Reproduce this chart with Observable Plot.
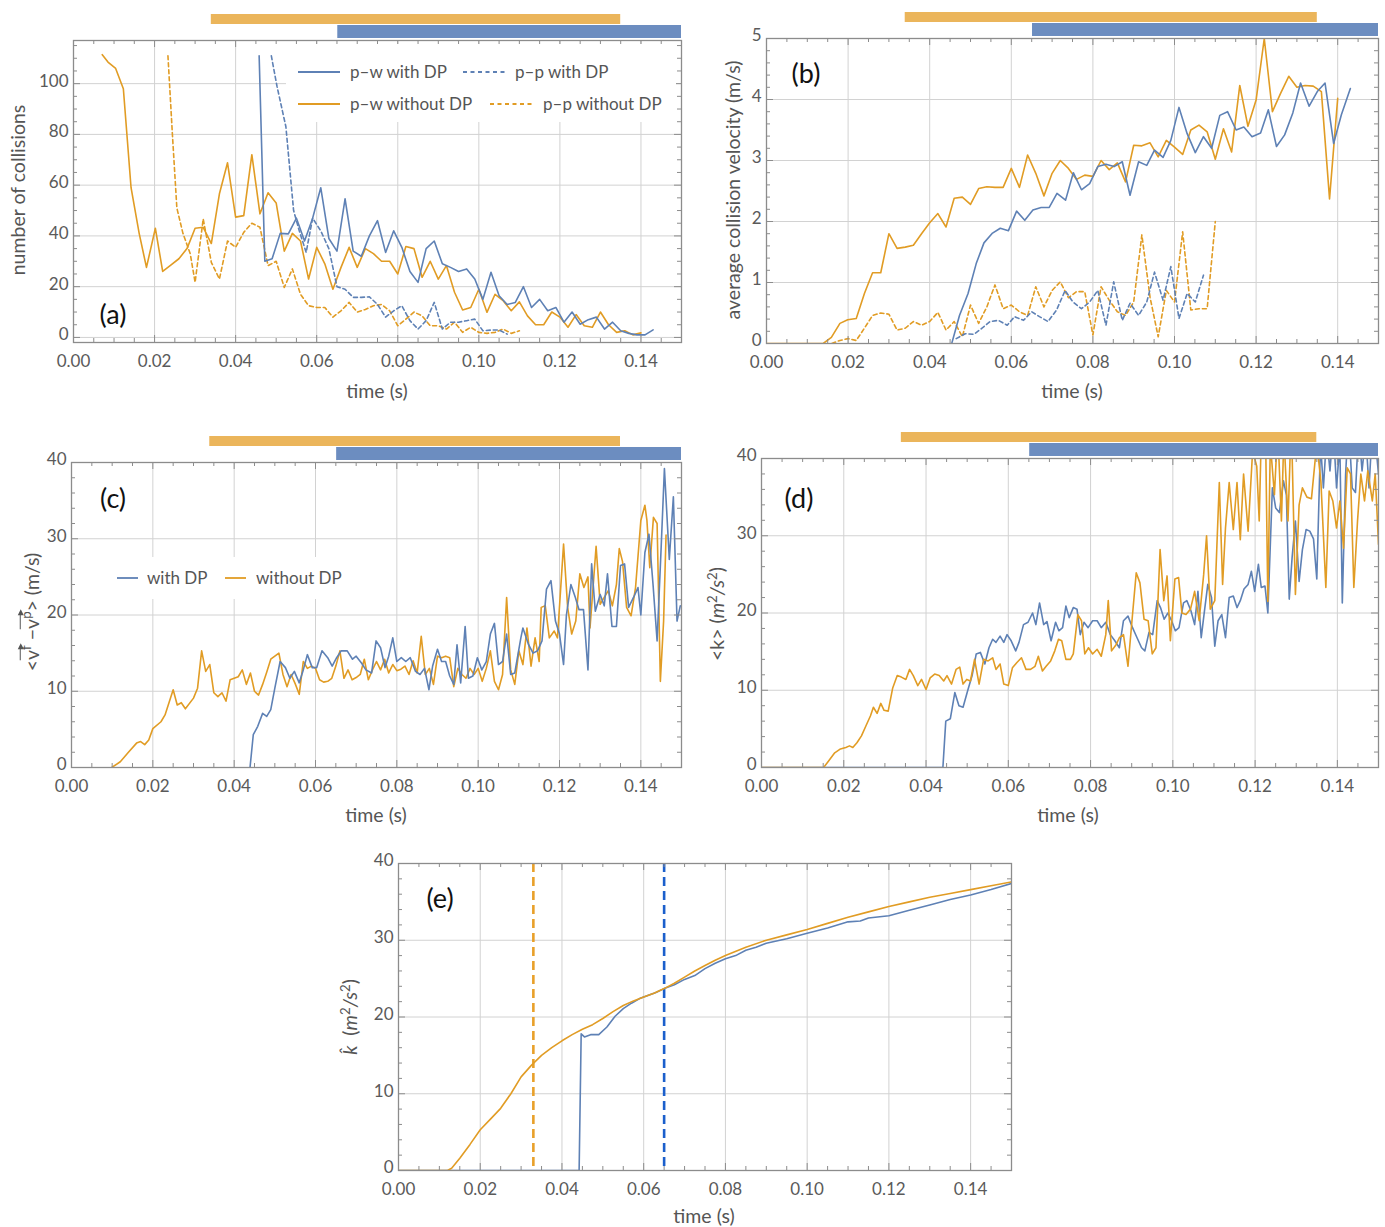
<!DOCTYPE html>
<html>
<head>
<meta charset="utf-8">
<script src="https://cdn.jsdelivr.net/npm/d3@7"></script>
<script src="https://cdn.jsdelivr.net/npm/@observablehq/plot@0.6"></script>
<style>
  html, body { margin: 0; padding: 0; background: #fff; }
  #root { position: relative; width: 1385px; height: 1227px; overflow: hidden; background: #fff;
          font-family: Lato, "Open Sans", "DejaVu Sans", sans-serif; }
  .lbl { position: absolute; transform: translate(-50%, -50%); white-space: nowrap; color: #555; font-size: 19.5px; line-height: 1; }
  .ytl { transform: translate(-50%, -50%) rotate(-90deg); }
  .pan { color: #111; font-size: 27px; }
  sup { font-size: 0.68em; vertical-align: 0.55em; line-height: 0; }
  .vec { position: relative; display: inline-block; padding-top: 3px; }
  .vec::before { content: ""; position: absolute; left: 0; right: 1px; top: 1px; border-top: 1px solid #555; }
  .vec::after { content: ""; position: absolute; right: -2px; top: -1px; border-left: 6px solid #555;
                border-top: 3px solid transparent; border-bottom: 3px solid transparent; }
</style>
</head>
<body>
<div id="root"></div>
<script>
// ---------------- data ----------------
const X_MAJOR = [0, 0.02, 0.04, 0.06, 0.08, 0.10, 0.12, 0.14];
const periodWithoutDP = [0.034, 0.135];
const periodWithDP = [0.0652, 0.15];
const eMarkWithoutDP = [0.033];
const eMarkWithDP = [0.065];

// (a) number of collisions
const aPwWithDP = [[0.0458,111],[0.0472,30],[0.049,31],[0.051,41],[0.053,40.8],[0.055,47],[0.057,38],[0.059,47],[0.061,59],[0.063,39],[0.065,34],[0.067,54.6],[0.069,34],[0.071,32],[0.073,40],[0.075,46],[0.077,33.5],[0.079,42],[0.081,35.5],[0.083,26],[0.085,21.7],[0.087,35],[0.089,38],[0.091,29],[0.093,27.6],[0.095,26],[0.097,27],[0.099,23],[0.101,15],[0.103,25.7],[0.105,16.4],[0.107,13],[0.109,13.8],[0.111,20],[0.113,11.8],[0.115,15],[0.117,10.5],[0.119,11.8],[0.121,6],[0.123,10],[0.125,5.2],[0.127,7],[0.129,8],[0.131,3.3],[0.133,6],[0.135,2.6],[0.137,1.6],[0.139,1],[0.141,1],[0.143,3]];
const aPpWithDP = [[0.0488,111],[0.0502,99],[0.0524,83],[0.0543,50],[0.0557,42],[0.0574,33.5],[0.059,47],[0.061,42],[0.063,35],[0.065,20],[0.067,19],[0.069,15.8],[0.071,15.8],[0.073,16],[0.075,13],[0.077,8],[0.079,10.5],[0.081,12.5],[0.083,6.6],[0.085,3.3],[0.087,6.6],[0.089,13.8],[0.091,3.3],[0.093,6],[0.095,6],[0.097,6.6],[0.099,7.2],[0.101,2.6],[0.103,2.9],[0.105,2.9],[0.107,1.3]];
const aPwWithoutDP = [[0.0071,111.4],[0.0085,108.5],[0.0104,106],[0.0123,98],[0.0142,59],[0.0162,41],[0.018,27.6],[0.0202,43],[0.022,26],[0.024,28.5],[0.026,31],[0.028,35],[0.030,43],[0.032,43.4],[0.034,37],[0.036,56.6],[0.038,68.8],[0.040,47.4],[0.042,48],[0.044,72],[0.046,48.7],[0.048,57],[0.050,53],[0.052,34],[0.054,41],[0.056,38],[0.058,23],[0.060,35.5],[0.062,29],[0.064,19],[0.066,27.6],[0.068,35.5],[0.070,27.6],[0.072,35],[0.074,33],[0.076,30],[0.078,30],[0.080,25],[0.082,35.8],[0.084,35],[0.086,23.7],[0.088,30],[0.090,23],[0.092,28.3],[0.094,17.8],[0.096,10.8],[0.098,11.8],[0.100,19],[0.102,9.9],[0.104,17],[0.106,14.5],[0.108,10.5],[0.110,14],[0.112,8.5],[0.114,5],[0.116,5],[0.118,10],[0.120,8],[0.122,4],[0.124,9],[0.126,4.6],[0.128,4],[0.130,10],[0.132,5],[0.134,2],[0.136,2.6],[0.138,1],[0.140,1.8]];
const aPpWithoutDP = [[0.0233,111],[0.0244,80],[0.0255,51],[0.027,41],[0.0288,33],[0.030,21.7],[0.032,46.7],[0.034,29.6],[0.036,23],[0.038,38],[0.040,35.5],[0.042,41.4],[0.044,45],[0.046,43.4],[0.048,28.3],[0.050,30],[0.052,19.7],[0.054,27],[0.056,17],[0.058,12.5],[0.060,11.8],[0.062,11.8],[0.064,8],[0.066,10.5],[0.068,13.8],[0.070,10],[0.072,11],[0.074,12.5],[0.076,13],[0.078,10.5],[0.080,4.6],[0.082,7.2],[0.084,10],[0.086,8.5],[0.088,4.6],[0.090,4.6],[0.092,3.3],[0.094,6],[0.096,2],[0.098,4],[0.100,2],[0.102,1.6],[0.104,2],[0.106,3.3],[0.108,1.6],[0.110,2.6]];

// (b) average collision velocity
const bPwWithDP = [[0.0454,0],[0.0473,0.46],[0.0494,0.82],[0.0514,1.31],[0.0533,1.65],[0.0554,1.81],[0.0573,1.89],[0.0593,1.85],[0.0613,2.17],[0.0633,2.02],[0.0653,2.19],[0.0673,2.23],[0.0693,2.23],[0.0712,2.46],[0.0733,2.35],[0.0752,2.8],[0.0772,2.52],[0.0792,2.62],[0.0812,2.9],[0.0832,2.94],[0.0852,2.9],[0.0872,2.98],[0.0891,2.43],[0.0912,2.98],[0.0932,2.92],[0.0951,3.17],[0.0972,3.05],[0.0991,3.33],[0.1011,3.87],[0.1031,3.44],[0.1051,3.13],[0.1071,3.39],[0.1091,3.2],[0.1111,3.74],[0.113,3.8],[0.1151,3.5],[0.117,3.55],[0.119,3.39],[0.1211,3.45],[0.123,3.83],[0.125,3.23],[0.127,3.42],[0.129,3.78],[0.1309,4.27],[0.133,3.89],[0.135,4.13],[0.1369,4.27],[0.139,3.28],[0.1409,3.75],[0.1431,4.18]];
const bPpWithDP = [[0.0465,0.08],[0.0487,0.16],[0.0508,0.15],[0.0528,0.25],[0.0548,0.36],[0.0568,0.38],[0.059,0.3],[0.0608,0.44],[0.063,0.38],[0.065,0.52],[0.0669,0.44],[0.069,0.36],[0.0711,0.55],[0.0732,0.87],[0.0751,0.68],[0.0772,0.57],[0.0792,0.68],[0.0812,0.87],[0.0832,0.3],[0.0851,1.01],[0.0872,0.38],[0.0891,0.66],[0.0912,0.46],[0.0932,0.68],[0.0951,1.17],[0.0972,0.71],[0.0991,1.26],[0.1011,0.41],[0.1031,0.82],[0.1051,0.68],[0.1071,1.12]];
const bPwWithoutDP = [[0,0],[0.0139,0],[0.0159,0.1],[0.018,0.33],[0.0199,0.39],[0.022,0.41],[0.024,0.82],[0.026,1.16],[0.028,1.16],[0.030,1.8],[0.032,1.56],[0.034,1.58],[0.036,1.61],[0.038,1.8],[0.040,1.98],[0.042,2.13],[0.044,1.91],[0.046,2.38],[0.048,2.4],[0.050,2.28],[0.052,2.54],[0.054,2.57],[0.056,2.56],[0.058,2.56],[0.060,2.87],[0.062,2.56],[0.064,3.09],[0.066,2.79],[0.068,2.42],[0.070,2.79],[0.072,3.0],[0.074,2.87],[0.076,2.69],[0.078,2.76],[0.080,2.74],[0.082,3.0],[0.084,2.85],[0.086,2.96],[0.088,2.65],[0.090,3.25],[0.092,3.24],[0.094,3.29],[0.096,3.06],[0.098,3.33],[0.100,3.22],[0.102,3.1],[0.104,3.5],[0.106,3.58],[0.108,3.47],[0.110,3.02],[0.112,3.52],[0.114,3.14],[0.116,4.23],[0.118,3.56],[0.120,3.99],[0.122,5.0],[0.124,3.8],[0.126,4.1],[0.128,4.38],[0.130,4.2],[0.132,4.23],[0.134,4.22],[0.136,4.13],[0.138,2.37],[0.140,4.02]];
const bPpWithoutDP = [[0.016,0],[0.018,0.05],[0.020,0.08],[0.022,0.05],[0.024,0.25],[0.026,0.46],[0.028,0.5],[0.030,0.48],[0.032,0.22],[0.034,0.25],[0.036,0.36],[0.038,0.3],[0.040,0.36],[0.042,0.51],[0.044,0.22],[0.046,0.36],[0.048,0.11],[0.050,0.63],[0.052,0.33],[0.054,0.6],[0.056,0.96],[0.058,0.57],[0.060,0.63],[0.062,0.52],[0.064,0.46],[0.066,0.93],[0.068,0.6],[0.070,0.87],[0.072,1.01],[0.074,0.75],[0.076,0.85],[0.078,0.85],[0.080,0.14],[0.082,0.93],[0.084,0.71],[0.086,0.52],[0.088,0.46],[0.090,0.68],[0.092,1.78],[0.094,0.76],[0.096,0.11],[0.098,0.87],[0.100,0.68],[0.102,1.83],[0.104,0.55],[0.106,0.57],[0.108,0.57],[0.110,2.0]];

// (c) mean slip velocity
const cWithDP = [[0.0439,0],[0.0447,4.3],[0.0458,5.4],[0.047,7.1],[0.048,6.7],[0.049,7.6],[0.050,10.4],[0.0513,13.9],[0.0526,13.1],[0.0537,11.7],[0.0548,12.6],[0.056,11.1],[0.057,12.8],[0.058,14.8],[0.0592,13.1],[0.0603,13.1],[0.0616,15.3],[0.063,14.4],[0.0641,13.3],[0.0652,14.4],[0.0663,15.3],[0.0678,15.3],[0.0691,14.2],[0.070,14.6],[0.0713,13.7],[0.0724,12.8],[0.0738,12.4],[0.0749,16.6],[0.076,15.7],[0.0771,13.1],[0.078,14.6],[0.079,17],[0.080,13.9],[0.0811,14.4],[0.0822,13.9],[0.0833,14.4],[0.0846,12.6],[0.0857,12.2],[0.0868,13],[0.0879,10.2],[0.0888,13.3],[0.090,15.5],[0.091,13.9],[0.092,13.9],[0.093,12],[0.094,10.9],[0.0948,16.1],[0.0957,11.1],[0.0968,18.5],[0.0976,11.7],[0.0987,12],[0.0998,14.4],[0.1009,12.8],[0.102,13.9],[0.103,17.5],[0.104,18.9],[0.105,13.5],[0.106,13.9],[0.107,17.5],[0.108,12.2],[0.109,12.4],[0.1105,17],[0.111,18.3],[0.1124,16.1],[0.1135,15],[0.1146,15.3],[0.1157,16.6],[0.1168,23.4],[0.1179,24.5],[0.119,19.2],[0.120,17.5],[0.121,13.5],[0.1217,20],[0.1228,24],[0.1239,22.3],[0.1248,20.7],[0.1259,20.7],[0.127,12.8],[0.1279,26.7],[0.1288,20.5],[0.130,22.7],[0.131,21.2],[0.1318,25.4],[0.1329,18.5],[0.134,18.5],[0.135,26.5],[0.136,26.7],[0.137,21],[0.1382,22.3],[0.1393,23.6],[0.140,20],[0.141,28.2],[0.142,30.6],[0.143,24],[0.144,16.6],[0.145,28.9],[0.1458,39.2],[0.147,27.3],[0.148,35.5],[0.1489,19.2],[0.1497,21.2]];
const cWithoutDP = [[0.0099,0],[0.012,0.75],[0.014,2],[0.016,3.2],[0.017,3.4],[0.018,3],[0.019,3.6],[0.020,5.1],[0.022,6],[0.023,6.9],[0.025,10.2],[0.026,8.2],[0.027,8.5],[0.028,7.7],[0.030,9.1],[0.031,10.4],[0.032,15.3],[0.033,12.6],[0.034,13.5],[0.035,9.8],[0.036,9.3],[0.037,9.8],[0.038,8.7],[0.039,11.5],[0.040,11.7],[0.041,11.9],[0.042,12.8],[0.043,10.9],[0.044,12.4],[0.045,10],[0.046,9.5],[0.047,10.9],[0.048,12.5],[0.049,14.2],[0.050,14.6],[0.051,15],[0.052,12.2],[0.053,10.6],[0.054,12.2],[0.055,11],[0.056,9.6],[0.057,13.9],[0.058,13],[0.059,13.3],[0.060,13],[0.061,11.5],[0.062,11.2],[0.063,11.3],[0.064,11.7],[0.065,13.3],[0.066,15.3],[0.067,11.7],[0.068,12.8],[0.069,11.5],[0.070,11.8],[0.071,12.2],[0.072,14.2],[0.073,11.5],[0.074,12.8],[0.075,13.9],[0.076,12.8],[0.077,14.2],[0.078,12.4],[0.079,13.5],[0.080,12.7],[0.081,12.9],[0.082,13.3],[0.083,12.2],[0.084,14],[0.085,12.4],[0.086,17.2],[0.087,12.2],[0.088,13],[0.089,10.9],[0.090,14.6],[0.091,14.4],[0.092,14.6],[0.093,14.4],[0.094,10.6],[0.095,13],[0.096,12.2],[0.097,11.7],[0.098,13],[0.099,12.2],[0.100,13],[0.101,11.3],[0.102,13],[0.103,15.3],[0.104,11.3],[0.105,10.2],[0.106,12.2],[0.107,22.3],[0.108,12.8],[0.109,10.9],[0.110,15.3],[0.111,13.5],[0.112,18.3],[0.113,13.3],[0.114,17],[0.115,13.9],[0.1155,21],[0.1165,21.2],[0.1175,17],[0.1187,17.9],[0.1195,17],[0.121,29.3],[0.122,21],[0.123,17.5],[0.124,19.2],[0.125,25.4],[0.126,23.6],[0.127,25],[0.1275,18.3],[0.128,21.8],[0.129,29],[0.130,21.4],[0.131,22.3],[0.132,23.2],[0.133,21.2],[0.134,24],[0.1347,28.7],[0.1355,27],[0.1365,21],[0.1376,19.9],[0.1387,23.6],[0.140,32.4],[0.141,34.4],[0.1415,32.4],[0.1422,26.2],[0.1431,32.8],[0.144,32],[0.1448,11.3],[0.1456,19.2],[0.1462,30.5]];

// (d) <k>
const dWithDP = [[0,0],[0.0441,0],[0.0448,6],[0.0459,6.3],[0.047,9.7],[0.048,8],[0.049,7.8],[0.0501,9.9],[0.0512,11.9],[0.0522,14.7],[0.0532,14.9],[0.0543,13.4],[0.0553,15.5],[0.0562,16.6],[0.057,16.2],[0.058,17],[0.0589,16.2],[0.0597,17.2],[0.0607,16.4],[0.0618,15.1],[0.0626,16.2],[0.0637,18.5],[0.0648,18.8],[0.0659,20],[0.0667,18.5],[0.0676,21.3],[0.0686,18.5],[0.0694,18.9],[0.0704,16.4],[0.0715,18.8],[0.0723,17.7],[0.0732,18.1],[0.074,20.9],[0.0748,19.4],[0.0758,20.7],[0.0767,20.5],[0.0775,17.2],[0.0784,18.8],[0.0794,18.1],[0.0805,19],[0.0816,19],[0.0826,18.1],[0.0837,18.8],[0.0848,17.2],[0.0859,16.4],[0.087,15.5],[0.088,19],[0.0891,19.6],[0.0902,18.1],[0.0913,16.8],[0.0924,15.5],[0.0932,15.1],[0.0942,17.5],[0.0951,17.2],[0.0962,21.6],[0.097,20.7],[0.0979,19.2],[0.0988,20],[0.0997,19],[0.1006,17.7],[0.1015,18.1],[0.1026,21.3],[0.1034,21.6],[0.1044,20.3],[0.1053,18.5],[0.1061,22.8],[0.1069,16.8],[0.1077,20.3],[0.1085,23.7],[0.1094,22],[0.1102,15.7],[0.111,19],[0.1119,19.8],[0.1128,16.8],[0.1137,22],[0.1147,22.2],[0.1156,20.7],[0.1164,21.6],[0.1173,23.1],[0.1183,23.7],[0.1191,25.4],[0.1199,22.8],[0.1208,26.3],[0.1215,23.3],[0.1224,23.5],[0.1231,20],[0.1242,36.2],[0.125,33.6],[0.1259,33],[0.1269,37.1],[0.1276,35.3],[0.1283,21.8],[0.129,27.2],[0.1298,31.9],[0.1307,24.1],[0.1315,28.2],[0.1324,30.8],[0.1333,30.6],[0.1342,29.6],[0.135,24.4],[0.1359,42],[0.1366,36.2],[0.1374,43],[0.1382,38.4],[0.139,44],[0.1398,36.2],[0.1406,42],[0.1412,21.3],[0.142,37.9],[0.1427,45],[0.1436,36.2],[0.1444,35.6],[0.1452,44],[0.146,38.4],[0.1469,43],[0.1477,36.2],[0.1486,45],[0.1493,42],[0.15,38]];
const dWithoutDP = [[0,0],[0.0151,0],[0.0164,0.9],[0.0178,1.9],[0.0192,2.4],[0.0205,2.6],[0.0214,2.8],[0.0222,2.6],[0.0232,3.2],[0.0243,4.1],[0.0254,5.4],[0.0265,6.7],[0.0272,7.8],[0.0281,7],[0.029,8.3],[0.0298,7.4],[0.0308,7.3],[0.0319,10.3],[0.033,11.9],[0.034,11.7],[0.0351,11.4],[0.036,12.7],[0.0369,11.9],[0.038,10.6],[0.0389,11.4],[0.040,10.1],[0.041,11.6],[0.0421,12.1],[0.0432,11.9],[0.0443,11.2],[0.0451,11.9],[0.0462,10.8],[0.0473,12.7],[0.0482,13],[0.049,10.8],[0.0499,11.4],[0.0508,11.2],[0.0518,14],[0.0529,10.8],[0.054,14],[0.0551,13.8],[0.0562,14.2],[0.057,12.7],[0.058,13.4],[0.0589,10.8],[0.060,10.6],[0.061,12.9],[0.0621,13.6],[0.0632,14.2],[0.0643,12.7],[0.0654,12.7],[0.0665,13.1],[0.0673,14.4],[0.0683,12.5],[0.0692,13.1],[0.0703,13.8],[0.0713,15.1],[0.0722,16.6],[0.073,16.4],[0.074,14],[0.0751,14],[0.0758,14.7],[0.0769,19.8],[0.0778,19],[0.0786,14.7],[0.0795,15.5],[0.0805,14.7],[0.0816,15.3],[0.0826,14.4],[0.0837,17.2],[0.0843,21.6],[0.0851,15.1],[0.0862,15.9],[0.087,16.8],[0.088,17.2],[0.0891,13.1],[0.0902,19.8],[0.0911,25.2],[0.092,23.9],[0.093,19.2],[0.094,19],[0.095,14.7],[0.0959,15.5],[0.0969,28.2],[0.0978,21.6],[0.0986,24.8],[0.0994,16.4],[0.1005,24.4],[0.1014,24.6],[0.1022,20],[0.1032,19.8],[0.1043,20.5],[0.1053,22.8],[0.1064,19],[0.1075,25],[0.1082,30],[0.1091,20.5],[0.1102,21.6],[0.1113,36.9],[0.1121,23.7],[0.1128,31],[0.1137,36.9],[0.1147,30.8],[0.1156,36.9],[0.1164,29.5],[0.1172,38],[0.1183,30.6],[0.1194,41],[0.1204,39],[0.121,31.9],[0.1215,43],[0.1226,41],[0.1231,21.5],[0.1237,42],[0.1247,35.3],[0.1255,44],[0.1264,31.9],[0.127,43],[0.128,31.9],[0.1288,45],[0.1298,22.4],[0.1307,34],[0.1315,36.2],[0.1326,35],[0.1337,34.8],[0.135,42],[0.136,37],[0.1372,23.3],[0.138,35.8],[0.1389,34.5],[0.1398,31],[0.1406,34.5],[0.1415,28.4],[0.1424,38.8],[0.1432,38],[0.144,23.3],[0.1449,31.9],[0.1457,38],[0.1466,34.5],[0.1474,38.4],[0.1485,34.5],[0.1492,38],[0.15,28.9]];

// (e) k-hat
const eWithDP = [[0,0],[0.0442,0],[0.0447,17.8],[0.0455,17.4],[0.047,17.7],[0.049,17.7],[0.051,18.7],[0.053,20.1],[0.055,21.1],[0.057,21.8],[0.059,22.4],[0.061,22.8],[0.063,23.2],[0.065,23.7],[0.0675,24.2],[0.07,24.9],[0.0725,25.4],[0.075,26.3],[0.0775,27.0],[0.08,27.6],[0.0825,28.0],[0.085,28.7],[0.0875,29.1],[0.09,29.6],[0.095,30.2],[0.10,30.9],[0.105,31.6],[0.11,32.4],[0.113,32.5],[0.115,32.9],[0.12,33.2],[0.125,33.9],[0.13,34.6],[0.135,35.3],[0.14,35.9],[0.145,36.6],[0.15,37.4]];
const eWithoutDP = [[0,0],[0.012,0],[0.013,0.3],[0.015,1.6],[0.0175,3.4],[0.02,5.3],[0.0225,6.7],[0.025,8.1],[0.0275,10],[0.03,12.2],[0.0325,13.7],[0.035,15.0],[0.0375,16.0],[0.04,16.9],[0.0425,17.7],[0.045,18.4],[0.0475,19.0],[0.05,19.8],[0.0525,20.7],[0.055,21.5],[0.0575,22.1],[0.06,22.6],[0.0625,23.1],[0.065,23.7],[0.0675,24.4],[0.07,25.2],[0.0725,26.0],[0.075,26.7],[0.0775,27.4],[0.08,28.0],[0.085,29.1],[0.09,30.0],[0.095,30.7],[0.10,31.4],[0.105,32.2],[0.11,33.0],[0.115,33.7],[0.12,34.4],[0.125,35.0],[0.13,35.6],[0.135,36.1],[0.14,36.6],[0.145,37.1],[0.15,37.6]];

// ---------------- styles ----------------
const BLUE = "#5E81B5", ORANGE = "#E19C24";
const BAR_ORANGE = "#EBB55B", BAR_BLUE = "#6C8DC0";
const DASH_ORANGE = "#E8A02A", DASH_BLUE = "#1B5FCC";
const GRID = "#d2d2d2", FRAME = "#8c8c8c", TICKC = "#5a5a5a";
const FONT = "Lato, 'Open Sans', 'DejaVu Sans', sans-serif";

const root = document.getElementById("root");

function minorOf(lo, hi, step, majors) {
  return d3.range(Math.round(lo / step), Math.round(hi / step) + 1)
    .map(i => +(i * step).toFixed(6))
    .filter(v => !majors.some(m => Math.abs(m - v) < step / 10));
}

function panel(p) {
  const mL = 70, mR = 8, mT = 40, mB = 60;
  const W = p.fx1 - p.fx0, H = p.fy1 - p.fy0;
  const xMinor = minorOf(0, 0.15, 0.005, X_MAJOR);
  const yMinor = minorOf(p.yMinor[0], p.yMinor[1], p.yMinor[2], p.yTicks);
  const yMaj = p.yTicks;
  const marks = [
    Plot.ruleX(X_MAJOR.slice(1), {x: d => d, stroke: GRID, strokeWidth: 1}),
    Plot.ruleY(yMaj.filter(v => v > p.yDomain[0] && v < p.yDomain[1]), {y: d => d, stroke: GRID, strokeWidth: 1})
  ];
  if (p.bars) {
    marks.push(Plot.rect([periodWithoutDP], {x1: d => d[0], x2: d => d[1], fill: BAR_ORANGE, insetTop: -26, insetBottom: H + 16}));
    marks.push(Plot.rect([periodWithDP], {x1: d => d[0], x2: d => d[1], fill: BAR_BLUE, insetTop: -15, insetBottom: H + 2}));
  }
  for (const v of p.vrules || []) {
    marks.push(Plot.ruleX(v.data, {x: d => d, stroke: v.color, strokeWidth: 2.6, strokeDasharray: "9,5"}));
  }
  for (const s of p.lines) {
    marks.push(Plot.line(s.data, {x: d => d[0], y: d => d[1], stroke: s.color, strokeWidth: 1.6,
      strokeDasharray: s.dash ? "4,3" : null, clip: true}));
  }
  marks.push(Plot.frame({stroke: FRAME, strokeWidth: 1.3}));
  // inward tick marks on all four sides
  marks.push(Plot.ruleX(X_MAJOR, {x: d => d, stroke: FRAME, insetTop: H - 7}));
  marks.push(Plot.ruleX(X_MAJOR, {x: d => d, stroke: FRAME, insetBottom: H - 7}));
  marks.push(Plot.ruleX(xMinor, {x: d => d, stroke: FRAME, insetTop: H - 4}));
  marks.push(Plot.ruleX(xMinor, {x: d => d, stroke: FRAME, insetBottom: H - 4}));
  marks.push(Plot.ruleY(yMaj, {y: d => d, stroke: FRAME, insetRight: W - 7}));
  marks.push(Plot.ruleY(yMaj, {y: d => d, stroke: FRAME, insetLeft: W - 7}));
  marks.push(Plot.ruleY(yMinor, {y: d => d, stroke: FRAME, insetRight: W - 4}));
  marks.push(Plot.ruleY(yMinor, {y: d => d, stroke: FRAME, insetLeft: W - 4}));
  // tick labels
  marks.push(Plot.axisX(X_MAJOR, {tickFormat: d => d.toFixed(2), tickSize: 0, tickPadding: 12, label: null}));
  marks.push(Plot.axisY(yMaj, {tickFormat: d => String(d), tickSize: 0, tickPadding: 5, dy: -2.5, label: null}));

  const svg = Plot.plot({
    width: W + mL + mR, height: H + mT + mB,
    marginLeft: mL, marginRight: mR, marginTop: mT, marginBottom: mB,
    x: {domain: [0, 0.15]},
    y: {domain: p.yDomain},
    style: {background: "transparent", fontFamily: FONT, fontSize: "17px", color: TICKC, overflow: "visible"},
    marks
  });
  svg.style.position = "absolute";
  svg.style.left = (p.fx0 - mL) + "px";
  svg.style.top = (p.fy0 - mT) + "px";
  svg.style.maxWidth = "none";
  root.appendChild(svg);
}

const tens = [0, 10, 20, 30, 40];
panel({fx0: 73, fx1: 681, fy0: 40, fy1: 342, yDomain: [-2, 117], yTicks: [0, 20, 40, 60, 80, 100], yMinor: [0, 115, 5], bars: true,
  lines: [{data: aPpWithoutDP, color: ORANGE, dash: true}, {data: aPwWithoutDP, color: ORANGE},
          {data: aPpWithDP, color: BLUE, dash: true}, {data: aPwWithDP, color: BLUE}]});
panel({fx0: 766, fx1: 1378, fy0: 38, fy1: 343, yDomain: [0, 5], yTicks: [0, 1, 2, 3, 4, 5], yMinor: [0, 5, 0.2], bars: true,
  lines: [{data: bPpWithoutDP, color: ORANGE, dash: true}, {data: bPwWithoutDP, color: ORANGE},
          {data: bPpWithDP, color: BLUE, dash: true}, {data: bPwWithDP, color: BLUE}]});
panel({fx0: 71, fx1: 681, fy0: 462, fy1: 767, yDomain: [0, 40], yTicks: tens, yMinor: [0, 40, 2], bars: true,
  lines: [{data: cWithoutDP, color: ORANGE}, {data: cWithDP, color: BLUE}]});
panel({fx0: 761, fx1: 1378, fy0: 458, fy1: 767, yDomain: [0, 40], yTicks: tens, yMinor: [0, 40, 2], bars: true,
  lines: [{data: dWithDP, color: BLUE}, {data: dWithoutDP, color: ORANGE}]});
panel({fx0: 398, fx1: 1011, fy0: 863, fy1: 1170, yDomain: [0, 40], yTicks: tens, yMinor: [0, 40, 2], bars: false,
  vrules: [{data: eMarkWithoutDP, color: DASH_ORANGE}, {data: eMarkWithDP, color: DASH_BLUE}],
  lines: [{data: eWithDP, color: BLUE}, {data: eWithoutDP, color: ORANGE}]});

// ---------------- legends (overlay) ----------------
const ov = d3.select(root).append("svg")
  .attr("width", 1385).attr("height", 1227)
  .style("position", "absolute").style("left", 0).style("top", 0).style("pointer-events", "none")
  .style("font-family", FONT).style("font-size", "17px");

function legend(box, items) {
  ov.append("rect").attr("x", box[0]).attr("y", box[1]).attr("width", box[2]).attr("height", box[3]).attr("fill", "#fff");
  for (const it of items) {
    ov.append("line").attr("x1", it.x1).attr("x2", it.x2).attr("y1", it.y).attr("y2", it.y)
      .attr("stroke", it.color).attr("stroke-width", 1.8).attr("stroke-dasharray", it.dash ? "4,3.5" : null);
    ov.append("text").attr("x", it.tx).attr("y", it.y).attr("dy", "0.35em").attr("fill", "#555").text(it.label);
  }
}
legend([286, 44, 390, 78], [
  {x1: 298, x2: 340, y: 72, color: BLUE, tx: 350, label: "p\u2013w with DP"},
  {x1: 463, x2: 505, y: 72, color: BLUE, dash: true, tx: 515, label: "p\u2013p with DP"},
  {x1: 298, x2: 340, y: 104, color: ORANGE, tx: 350, label: "p\u2013w without DP"},
  {x1: 490, x2: 532, y: 104, color: ORANGE, dash: true, tx: 543, label: "p\u2013p without DP"}
]);
legend([100, 557, 262, 42], [
  {x1: 117, x2: 138, y: 578, color: BLUE, tx: 147, label: "with DP"},
  {x1: 225, x2: 246, y: 578, color: ORANGE, tx: 256, label: "without DP"}
]);

// ---------------- texts ----------------
function label(html, cx, cy, cls) {
  const d = document.createElement("div");
  d.className = "lbl " + (cls || "");
  d.style.left = cx + "px"; d.style.top = cy + "px";
  d.innerHTML = html;
  root.appendChild(d);
}
label("(a)", 113, 313, "pan"); label("(b)", 806, 72, "pan"); label("(c)", 113, 497, "pan");
label("(d)", 799, 497, "pan"); label("(e)", 440, 897, "pan");
label("time (s)", 377, 391); label("time (s)", 1072, 391); label("time (s)", 376, 815);
label("time (s)", 1068, 815); label("time (s)", 704, 1216);
label("number of collisions", 18, 190, "ytl");
label("average collision velocity (m/s)", 733, 190, "ytl");
label('&lt;<span class="vec">v<sup>f</sup></span> \u2212<span class="vec">v<sup>p</sup></span>&gt; (m/s)', 30, 612, "ytl");
label('&lt;k&gt; (<i>m</i><sup>2</sup><i>/s</i><sup>2</sup>)', 717, 614, "ytl");
label('<i>k\u0302</i> &nbsp;(<i>m</i><sup>2</sup><i>/s</i><sup>2</sup>)', 350, 1017, "ytl");
</script>
</body>
</html>
